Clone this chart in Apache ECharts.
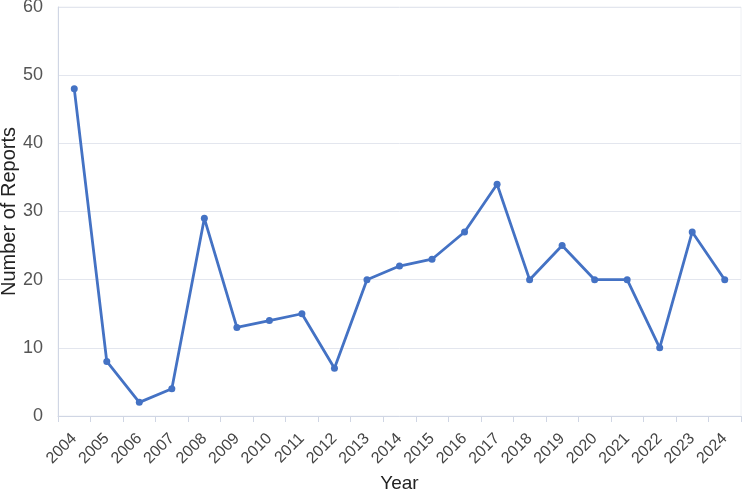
<!DOCTYPE html>
<html>
<head>
<meta charset="utf-8">
<script src="https://cdn.jsdelivr.net/npm/echarts@6/dist/echarts.min.js"></script>
<style>
  html, body { margin: 0; padding: 0; background: #fff; }
  #chart { width: 744px; height: 490px; }
</style>
</head>
<body>
<div id="chart"></div>
<script>
// data
const years = ['2004', '2005', '2006', '2007', '2008', '2009', '2010', '2011', '2012', '2013', '2014',
  '2015', '2016', '2017', '2018', '2019', '2020', '2021', '2022', '2023', '2024'];
const reports = [48, 8, 2, 4, 29, 13, 14, 15, 7, 20, 22, 23, 27, 34, 20, 25, 20, 20, 10, 27, 20];

const chart = echarts.init(document.getElementById('chart'));

const option = {
  animation: false,
  grid: {
    left: 58, right: 3, top: 7, bottom: 74,
    containLabel: false,
    outerBoundsMode: 'none',
    show: true,
    borderColor: '#eef0f4',
    borderWidth: 1
  },
  xAxis: {
    type: 'category',
    data: years,
    boundaryGap: true,
    name: 'Year',
    nameLocation: 'middle',
    nameGap: 58,
    nameMoveOverlap: false,
    nameTextStyle: { fontSize: 19, color: '#222', fontFamily: 'Liberation Sans' },
    axisLine: { lineStyle: { color: '#d0d6e4' } },
    axisTick: { show: true, length: 6, lineStyle: { color: '#d0d6e4' } },
    axisLabel: {
      rotate: 45, fontSize: 16, color: '#444', fontFamily: 'Liberation Sans',
      margin: 20, interval: 0
    }
  },
  yAxis: {
    type: 'value',
    min: 0, max: 60, interval: 10,
    name: 'Number of Reports',
    nameLocation: 'middle',
    nameGap: 39,
    nameMoveOverlap: false,
    nameTextStyle: { fontSize: 20, color: '#222', fontFamily: 'Liberation Sans' },
    axisLine: { show: true, lineStyle: { color: '#d0d6e4' } },
    axisTick: { show: false },
    axisLabel: { fontSize: 18, color: '#555', fontFamily: 'Liberation Sans', margin: 15 },
    splitLine: { lineStyle: { color: '#e3e6ee' } }
  },
  series: [{
    type: 'line',
    data: reports,
    symbol: 'circle',
    symbolSize: 7,
    lineStyle: { color: '#4472c4', width: 2.8 },
    itemStyle: { color: '#4472c4' }
  }]
};

chart.setOption(option);
</script>
</body>
</html>
